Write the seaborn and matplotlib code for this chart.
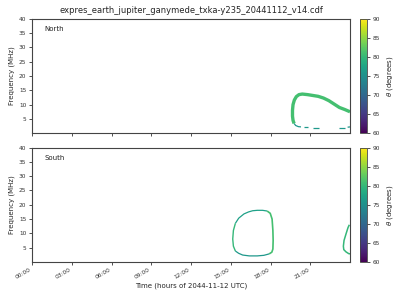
import numpy as np
import pandas as pd
import matplotlib
matplotlib.use("Agg")
import matplotlib.pyplot as plt
import seaborn as sns
from matplotlib.colors import Normalize
from matplotlib.cm import ScalarMappable

# ---------------- data ----------------
title = "expres_earth_jupiter_ganymede_txka-y235_20441112_v14.cdf"
xlabel = "Time (hours of 2044-11-12 UTC)"
ylabel = "Frequency (MHz)"
cbar_label = r"$\theta$ (degrees)"
hemispheres = ["North", "South"]
xtick_hours = [0, 3, 6, 9, 12, 15, 18, 21]
xtick_labels = ["00:00", "03:00", "06:00", "09:00", "12:00", "15:00", "18:00", "21:00"]
ytick_values = [5, 10, 15, 20, 25, 30, 35, 40]
cbar_ticks = [60, 65, 70, 75, 80, 85, 90]
theta_min, theta_max = 60, 90

# North hemisphere segments: (hours, frequency MHz, theta deg)
north_arc_hours = [19.78, 19.7, 19.66, 19.66, 19.7, 19.8, 19.95, 20.15, 20.4, 20.8, 21.2, 21.6, 22.0, 22.4, 22.8, 23.2, 23.6, 24.0]
north_arc_freq = [3.4, 4.5, 6, 8, 10, 11.6, 12.8, 13.5, 13.7, 13.5, 13.2, 12.9, 12.3, 11.4, 10.2, 9.0, 8.3, 7.5]
north_arc_theta = 81
north_low1_hours = [19.78, 19.9, 20.1, 20.3]
north_low1_freq = [3.4, 2.7, 2.3, 2.2]
north_low2_hours = [20.5, 20.85]
north_low2_freq = [2.1, 2.1]
north_low3_hours = [21.2, 21.65]
north_low3_freq = [1.8, 1.8]
north_low4_hours = [23.2, 23.65]
north_low4_freq = [1.8, 1.8]
north_low5_hours = [23.82, 24.0]
north_low5_freq = [2.1, 2.2]
north_low_theta = 76

# South hemisphere segments
south_left_hours = [15.35, 15.2, 15.15, 15.2, 15.35]
south_left_freq = [3.8, 5.5, 8, 11, 13.5]
south_left_theta = 80
south_top_hours = [15.35, 15.6, 16.0, 16.35, 16.65, 17.0, 17.4, 17.75]
south_top_freq = [13.5, 15.3, 16.8, 17.5, 17.9, 18.05, 18.05, 17.8]
south_top_theta = 77
south_right_hours = [17.75, 17.98, 18.12, 18.18, 18.2, 18.18, 18.1, 17.9]
south_right_freq = [17.8, 17.0, 15.0, 11, 7.5, 4.5, 3.4, 2.8]
south_right_theta = 81
south_bottom_hours = [17.9, 17.5, 17.0, 16.4, 15.9, 15.6, 15.35]
south_bottom_freq = [2.8, 2.3, 2.1, 2.1, 2.4, 3.0, 3.8]
south_bottom_theta = 76
south_edge_hours = [23.95, 23.85, 23.7, 23.55, 23.5, 23.53, 23.7, 23.9, 24.0]
south_edge_freq = [13.0, 12.0, 9.8, 7.5, 5.5, 4.3, 3.5, 2.9, 2.8]
south_edge_theta = 80

north_segments = [
    (north_arc_hours, north_arc_freq, north_arc_theta, 2.4),
    (north_low1_hours, north_low1_freq, north_low_theta, 0.9),
    (north_low2_hours, north_low2_freq, north_low_theta, 0.9),
    (north_low3_hours, north_low3_freq, north_low_theta, 0.9),
    (north_low4_hours, north_low4_freq, north_low_theta, 0.9),
    (north_low5_hours, north_low5_freq, north_low_theta, 0.9),
]
south_segments = [
    (south_left_hours, south_left_freq, south_left_theta, 1.0),
    (south_top_hours, south_top_freq, south_top_theta, 0.9),
    (south_right_hours, south_right_freq, south_right_theta, 1.2),
    (south_bottom_hours, south_bottom_freq, south_bottom_theta, 0.9),
    (south_edge_hours, south_edge_freq, south_edge_theta, 1.1),
]

# ---------------- plot ----------------
sns.set_style("ticks")
plt.rcParams["font.family"] = ["DejaVu Sans"]
plt.rcParams["axes.edgecolor"] = "#444444"
plt.rcParams["axes.linewidth"] = 0.8

fig = plt.figure(figsize=(4, 3), dpi=100)
ax_n = fig.add_axes([0.08, 0.556, 0.795, 0.381])
ax_s = fig.add_axes([0.08, 0.127, 0.795, 0.381])
cax_n = fig.add_axes([0.90, 0.556, 0.0183, 0.381])
cax_s = fig.add_axes([0.90, 0.127, 0.0183, 0.381])

cmap = plt.get_cmap("viridis")
norm = Normalize(vmin=theta_min, vmax=theta_max)

for ax, segs, name in [(ax_n, north_segments, hemispheres[0]), (ax_s, south_segments, hemispheres[1])]:
    for hrs, frq, th, lw in segs:
        df = pd.DataFrame({"hour": hrs, "freq": frq})
        sns.lineplot(data=df, x="hour", y="freq", sort=False, estimator=None,
                     color=cmap(norm(th)), linewidth=lw, ax=ax, solid_capstyle="butt")
    ax.set_xlim(0, 24)
    ax.set_ylim(0, 40)
    ax.set_yticks(ytick_values)
    ax.set_xticks(xtick_hours)
    ax.set_ylabel(ylabel, fontsize=5, labelpad=2.5)
    ax.set_xlabel("")
    ax.tick_params(labelsize=4.2, length=2.5, width=0.6, pad=1.5, colors="#333333")
    ax.text(0.04, 0.91, name, transform=ax.transAxes, fontsize=5, va="center", ha="left", color="#222222")
    for sp in ax.spines.values():
        sp.set_visible(True)

ax_n.set_xticklabels([])
ax_s.set_xticklabels(xtick_labels, rotation=30, ha="right")
ax_s.set_xlabel(xlabel, fontsize=5, labelpad=1.5)
ax_n.set_title(title, fontsize=6, pad=4)

for cax in [cax_n, cax_s]:
    sm = ScalarMappable(norm=norm, cmap=cmap)
    cb = fig.colorbar(sm, cax=cax, ticks=cbar_ticks)
    cb.ax.tick_params(labelsize=4.2, length=2.5, width=0.6, pad=1.5, colors="#333333")
    cb.set_label(cbar_label, fontsize=5, labelpad=3.5)
    cb.outline.set_linewidth(0.6)

fig.savefig("out.png", dpi=100)
